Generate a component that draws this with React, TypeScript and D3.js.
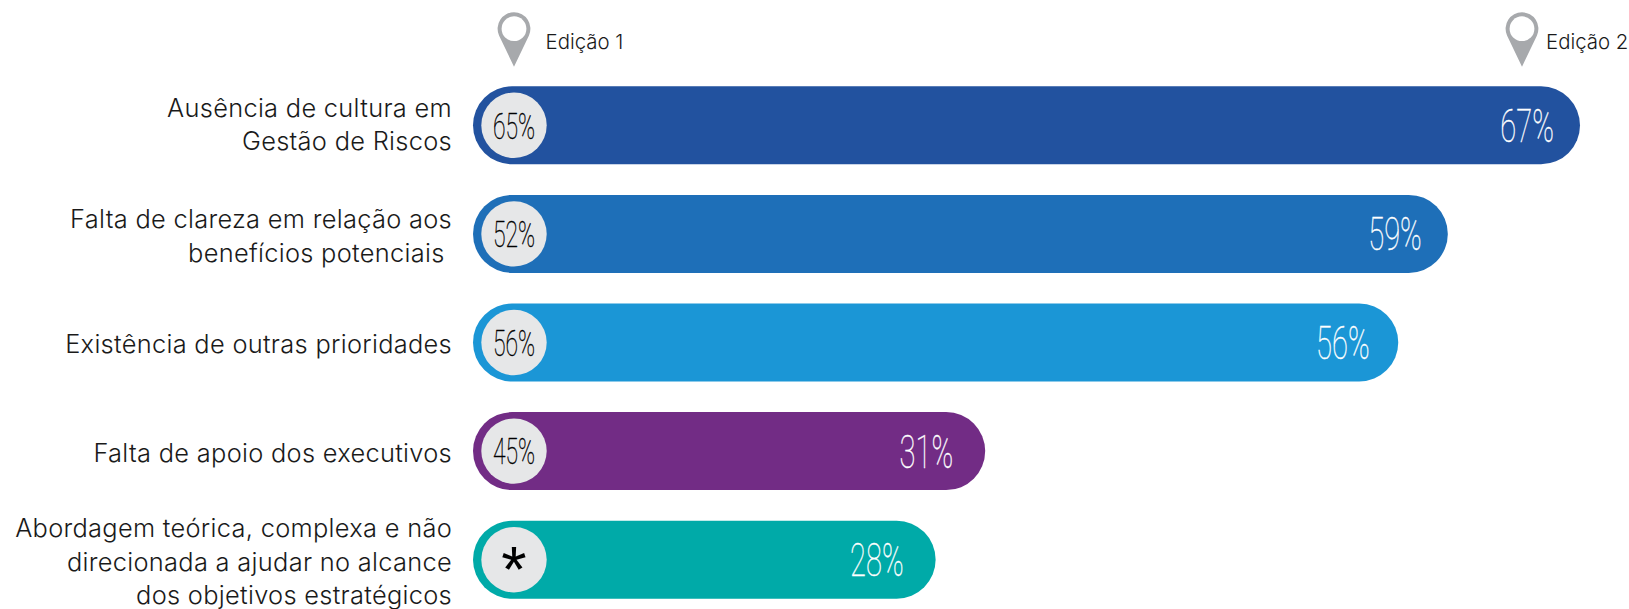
import React from "react";
import * as d3 from "d3";

// Survey results: share of respondents citing each barrier, by edition.
const categories: string[][] = [
  ["Ausência de cultura em", "Gestão de Riscos"],
  ["Falta de clareza em relação aos", "benefícios potenciais\u00a0"],
  ["Existência de outras prioridades"],
  ["Falta de apoio dos executivos"],
  ["Abordagem teórica, complexa e não", "direcionada a ajudar no alcance", "dos objetivos estratégicos"],
];
const edition1: (number | null)[] = [65, 52, 56, 45, null];
const edition2: number[] = [67, 59, 56, 31, 28];
const barColors = ["#22529f", "#1e6fb8", "#1b96d6", "#722c85", "#00aaa8"];
const editionLabels = ["Edição 1", "Edição 2"];

const WIDTH = 1629;
const HEIGHT = 609;
const BAR_H = 78;
const LABEL_FONT = "Inter, 'Liberation Sans', sans-serif";
const NUMBER_FONT = "Roboto, 'Liberation Sans', sans-serif";

const x = d3.scaleLinear().domain([0, 67]).range([473, 1580]);
const rowTop = d3
  .scaleLinear()
  .domain([0, 4])
  .range([86.3, 520.7]);

// Map-pin marker: a ring head tapering to a point at (0, 0).
function pinPath(): string {
  const p = d3.path();
  const r = 16.4;
  const cy = -38;
  const a = 0.42;
  p.moveTo(0, 0);
  p.lineTo(-r * Math.cos(a), cy + r * Math.sin(a));
  p.arc(0, cy, r, Math.PI - a, a, false);
  p.closePath();
  return p.toString();
}

function Pin({ px, label, labelX }: { px: number; label: string; labelX: number }) {
  return (
    <g>
      <g transform={`translate(${px},66.7)`}>
        <path d={pinPath()} fill="#a7a9ac" />
        <circle cx={0} cy={-38} r={12.4} fill="#fff" />
      </g>
      <text x={labelX} y={49} fontFamily={LABEL_FONT} fontWeight={300} fontSize={20.4} fill="#1a1a1a">
        {label}
      </text>
    </g>
  );
}

export default function App() {
  const cx = x(0) + 41;
  const insets = [26, 26, 28.5, 32, 32];
  const lineShift = [-0.7, 2, 2, 2, 2];
  return (
    <svg
      width={WIDTH}
      height={HEIGHT}
      viewBox={`0 0 ${WIDTH} ${HEIGHT}`}
      style={{ position: "absolute", left: 0, top: 0, background: "#fff" }}
    >
      <Pin px={cx} label={editionLabels[0]} labelX={545.5} />
      <Pin px={1522} label={editionLabels[1]} labelX={1546} />
      {edition2.map((v, i) => {
        const top = rowTop(i);
        const mid = top + BAR_H / 2;
        const lines = categories[i];
        const first = edition1[i];
        return (
          <g key={i}>
            <rect
              x={x(0)}
              y={top}
              width={x(v) - x(0)}
              height={BAR_H}
              rx={39}
              ry={39}
              fill={barColors[i]}
            />
            <circle cx={cx} cy={mid} r={32.7} fill="#e6e7e8" />
            {first !== null ? (
              <text
                transform={`translate(${cx},${mid + 13.2}) scale(0.61,1)`}
                textAnchor="middle"
                fontFamily={NUMBER_FONT}
                fontWeight={100}
                fontSize={37.5}
                fill="#000"
                stroke="#000"
                strokeWidth={0.45}
              >
                {first}%
              </text>
            ) : (
              <text
                x={cx}
                y={mid + 32}
                textAnchor="middle"
                fontFamily="'Liberation Sans', sans-serif"
                fontSize={65}
                fill="#000"
              >
                *
              </text>
            )}
            <text
              transform={`translate(${x(v) - insets[i]},${mid + 16.5}) scale(0.62,1)`}
              textAnchor="end"
              fontFamily={NUMBER_FONT}
              fontWeight={100}
              fontSize={47}
              fill="#fff"
              stroke="#fff"
              strokeWidth={0.4}
            >
              {v}%
            </text>
            {lines.map((line, j) => (
              <text
                key={j}
                x={452}
                y={mid + 8.9 + lineShift[i] + (j - (lines.length - 1) / 2) * 33.5}
                textAnchor="end"
                fontFamily={LABEL_FONT}
                fontWeight={300}
                fontSize={25.4}
                letterSpacing={0.3}
                fill="#1a1a1a"
              >
                {line}
              </text>
            ))}
          </g>
        );
      })}
    </svg>
  );
}
